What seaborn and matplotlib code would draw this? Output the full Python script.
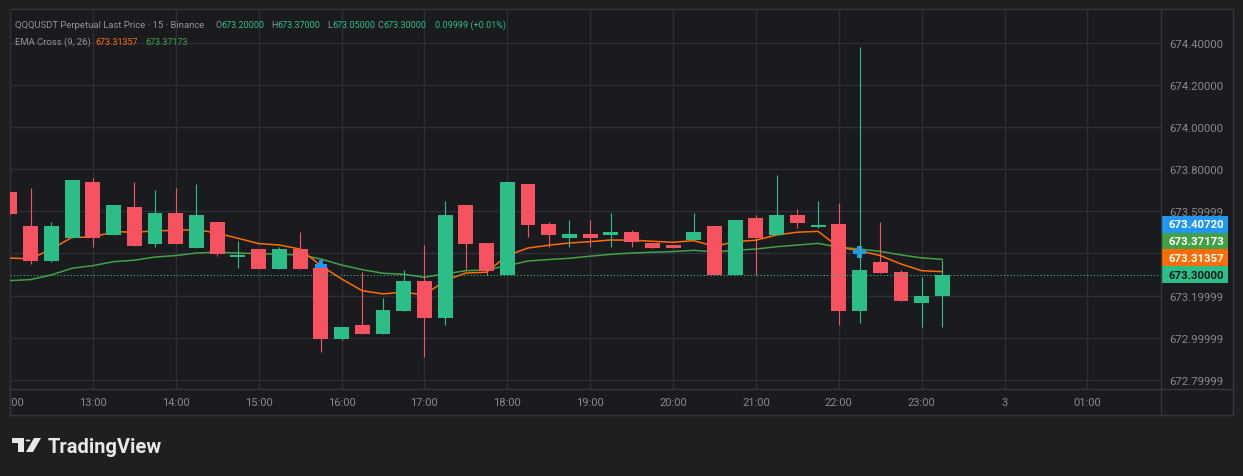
import numpy as np
import pandas as pd
import seaborn as sns
import matplotlib.pyplot as plt
from matplotlib.patches import Rectangle, Circle, Polygon
from matplotlib.lines import Line2D

# 15 minute candles, index 0 = 12:00
opens = [673.692, 673.531, 673.364, 673.474, 673.740, 673.488, 673.621, 673.445, 673.592, 673.426,
         673.550, 673.385, 673.421, 673.326, 673.421, 673.331, 672.994, 673.060, 673.018, 673.127,
         673.269, 673.094, 673.630, 673.450, 673.298, 673.730, 673.540, 673.474, 673.493, 673.488,
         673.502, 673.450, 673.440, 673.464, 673.531, 673.298, 673.569, 673.488, 673.583, 673.528,
         673.540, 673.127, 673.360, 673.312, 673.165, 673.200]
highs = [673.692, 673.711, 673.550, 673.749, 673.759, 673.630, 673.740, 673.702, 673.711, 673.730,
         673.550, 673.459, 673.421, 673.431, 673.502, 673.335, 673.051, 673.314, 673.189, 673.322,
         673.440, 673.649, 673.630, 673.450, 673.740, 673.730, 673.550, 673.559, 673.559, 673.592,
         673.512, 673.450, 673.440, 673.592, 673.531, 673.559, 673.583, 673.773, 673.611, 673.649,
         673.640, 674.381, 673.550, 673.322, 673.288, 673.370]
lows = [673.589, 673.350, 673.360, 673.474, 673.431, 673.488, 673.436, 673.431, 673.445, 673.426,
        673.388, 673.331, 673.326, 673.326, 673.326, 672.933, 672.990, 673.018, 673.018, 673.127,
        672.910, 673.062, 673.322, 673.298, 673.298, 673.478, 673.431, 673.431, 673.431, 673.431,
        673.431, 673.426, 673.426, 673.464, 673.298, 673.298, 673.298, 673.488, 673.521, 673.521,
        673.060, 673.070, 673.307, 673.174, 673.051, 673.050]
closes = [673.589, 673.364, 673.531, 673.749, 673.474, 673.630, 673.436, 673.592, 673.445, 673.583,
          673.398, 673.388, 673.326, 673.421, 673.326, 672.994, 673.051, 673.018, 673.132, 673.269,
          673.094, 673.583, 673.445, 673.317, 673.740, 673.535, 673.488, 673.493, 673.474, 673.502,
          673.455, 673.426, 673.426, 673.502, 673.298, 673.559, 673.474, 673.583, 673.545, 673.530,
          673.127, 673.322, 673.307, 673.174, 673.198, 673.300]

ema9 = [673.378, 673.375, 673.421, 673.477, 673.477, 673.504, 673.501, 673.507, 673.510, 673.513,
        673.497, 673.472, 673.447, 673.440, 673.421, 673.342, 673.279, 673.223, 673.208, 673.216,
        673.203, 673.271, 673.307, 673.311, 673.390, 673.426, 673.439, 673.450, 673.456, 673.464,
        673.463, 673.458, 673.453, 673.461, 673.434, 673.456, 673.463, 673.488, 673.501, 673.505,
        673.430, 673.413, 673.390, 673.350, 673.318, 673.31357]
ema26 = [673.271, 673.276, 673.298, 673.330, 673.342, 673.361, 673.368, 673.383, 673.390, 673.402,
         673.406, 673.402, 673.399, 673.396, 673.393, 673.374, 673.345, 673.323, 673.306, 673.301,
         673.287, 673.303, 673.318, 673.322, 673.342, 673.364, 673.371, 673.377, 673.387, 673.396,
         673.402, 673.406, 673.409, 673.415, 673.407, 673.415, 673.421, 673.432, 673.440, 673.448,
         673.430, 673.421, 673.410, 673.393, 673.379, 673.37173]

cross_idx = [15, 41]
cross_val = [673.338, 673.40720]

hour_labels = ["12:00", "13:00", "14:00", "15:00", "16:00", "17:00", "18:00",
               "19:00", "20:00", "21:00", "22:00", "23:00", "3", "01:00"]
price_ticks = [674.4, 674.2, 674.0, 673.8, 673.6, 673.4, 673.2, 673.0, 672.8]
# the 673.40000 label sits under the price badges, so it is not shown
price_labels = ["674.40000", "674.20000", "674.00000", "673.80000", "673.59999",
                "", "673.19999", "672.99999", "672.79999"]

symbol = "QQQUSDT Perpetual Last Price \u00b7 15 \u00b7 Binance"
change_txt = "0.09999 (+0.01%)"

OUTER = "#1f1f1f"
PANEL = "#1a1b1f"
GRID = "#2c2f38"
BORDER = "#35373e"
AXTXT = "#868993"
HDR = "#8f929b"
UP = "#2dbd86"
DOWN = "#f7525f"
EMA9_C = "#ff6d00"
EMA26_C = "#43a047"
BLUE = "#2196f3"

W, H = 1243, 477


def fx(px):
    return px / W


def fy(py):
    return 1 - py / H


sns.set_style("dark", rc={"axes.facecolor": PANEL, "figure.facecolor": OUTER,
                          "grid.color": GRID, "axes.edgecolor": BORDER})
plt.rcParams['font.family'] = ['Roboto', 'DejaVu Sans']

df = pd.DataFrame({"i": np.arange(len(opens)), "open": opens, "high": highs,
                   "low": lows, "close": closes, "ema9": ema9, "ema26": ema26})

fig = plt.figure(figsize=(W / 100, H / 100), dpi=100, facecolor=OUTER)
fig.add_artist(Rectangle((fx(10), fy(416)), fx(1233) - fx(10), fy(10) - fy(416),
                         transform=fig.transFigure, facecolor=PANEL, edgecolor=BORDER,
                         lw=1, zorder=-5))

ax = fig.add_axes([fx(10), fy(390), fx(1161) - fx(10), fy(10) - fy(390)])
ax.set_facecolor("none")
for s in ax.spines.values():
    s.set_visible(False)

xlim = (0.21, 55.55)
ylim = (672.756, 674.5615)
ax.set_xlim(*xlim)
ax.set_ylim(*ylim)

hour_pos = [4 * k for k in range(len(hour_labels))]
ax.set_xticks(hour_pos)
ax.tick_params(axis="x", length=0, labelbottom=False)
ax.yaxis.tick_right()
ax.set_yticks(price_ticks, labels=price_labels)
ax.tick_params(axis="y", length=0, pad=5.8, labelsize=8.2, labelcolor=AXTXT)
ax.grid(True, color=GRID, lw=1)
ax.set_axisbelow(True)

# EMA lines (behind candles)
sns.lineplot(data=df, x="i", y="ema26", ax=ax, color=EMA26_C, lw=1.1, zorder=2)
sns.lineplot(data=df, x="i", y="ema9", ax=ax, color=EMA9_C, lw=1.1, zorder=2)
ax.set_xlabel("")
ax.set_ylabel("")

# cross markers
sns.scatterplot(x=cross_idx, y=cross_val, ax=ax, marker="P", s=80, color=BLUE,
                edgecolor="none", zorder=2.5)

# candles
o = df["open"].values
c = df["close"].values
up = c >= o
colors = np.where(up, UP, DOWN)
min_h = 0.008
body_h = np.maximum(np.abs(c - o), min_h)
body_lo = np.where(np.abs(c - o) < min_h, (o + c) / 2 - min_h / 2, np.minimum(o, c))
ax.vlines(df["i"], df["low"], df["high"], colors=colors, lw=0.8, zorder=3)
ax.bar(df["i"], body_h, bottom=body_lo, width=0.72, color=colors, lw=0, zorder=4)

# last price line
ax.axhline(closes[-1], color=UP, lw=0.8, ls=(0, (1, 2)), zorder=5)

# time axis strip
ax_time = fig.add_axes([fx(10), fy(416), fx(1161) - fx(10), fy(390) - fy(416)], sharex=ax)
ax_time.set_facecolor("none")
ax_time.axis("off")
for pos, lab in zip(hour_pos, hour_labels):
    ax_time.text(pos, 0.5, lab, transform=ax_time.get_xaxis_transform(), ha="center",
                 va="center", fontsize=8, color=AXTXT, clip_on=True)

# price scale badges
ax_price = fig.add_axes([fx(1161), fy(390), fx(1233) - fx(1161), fy(10) - fy(390)])
ax_price.set_facecolor("none")
ax_price.axis("off")
ax_price.set_xlim(0, 1)
ax_price.set_ylim(*ylim)
bh = 0.0793
badges = [(closes[-1], UP, "#131722"), (ema9[-1], EMA9_C, "white"),
          (ema26[-1], EMA26_C, "white"), (cross_val[-1], BLUE, "white")]
for k, (val, fc, tc) in enumerate(badges):
    yc = closes[-1] + k * bh
    ax_price.add_patch(Rectangle((0.014, yc - bh / 2), 0.916, bh, facecolor=fc, lw=0))
    ax_price.text(0.11, yc, f"{val:.5f}", ha="left", va="center", fontsize=8.2,
                  fontweight="bold", color=tc)

# separators
fig.add_artist(Line2D([fx(1161), fx(1161)], [fy(10), fy(416)], color=BORDER, lw=1))
fig.add_artist(Line2D([fx(10), fx(1233)], [fy(390), fy(390)], color=BORDER, lw=1))

# legend header
hs = 6.5
fig.text(fx(15), fy(28.3), symbol, fontsize=6.8, color=HDR, va="baseline")
ohlc = [("O", opens[-1], 215, 221.3), ("H", highs[-1], 271.7, 277.3),
        ("L", lows[-1], 327.7, 332), ("C", closes[-1], 377.7, 383.3)]
for key, val, kx, vx in ohlc:
    fig.text(fx(kx), fy(28.3), key, fontsize=hs, color=HDR, va="baseline")
    fig.text(fx(vx), fy(28.3), f"{val:.5f}", fontsize=hs, color=UP, va="baseline")
fig.text(fx(435), fy(28.3), change_txt, fontsize=hs, color=UP, va="baseline")
fig.text(fx(15), fy(45), "EMA Cross (9, 26)", fontsize=6.8, color=HDR, va="baseline")
fig.text(fx(95.7), fy(45), f"{ema9[-1]:.5f}", fontsize=hs, color=EMA9_C, va="baseline")
fig.text(fx(145.7), fy(45), f"{ema26[-1]:.5f}", fontsize=hs, color=EMA26_C, va="baseline")

# TradingView logo
LOGO = "#e8e8e8"
fig.add_artist(Rectangle((fx(12), fy(444)), fx(24) - fx(12), fy(439) - fy(444),
                         transform=fig.transFigure, facecolor=LOGO, lw=0))
fig.add_artist(Rectangle((fx(18), fy(453)), fx(24) - fx(18), fy(439) - fy(453),
                         transform=fig.transFigure, facecolor=LOGO, lw=0))
fig.add_artist(Circle((fx(28), fy(441.5)), fx(2.4), transform=fig.transFigure,
                      facecolor=LOGO, lw=0))
fig.add_artist(Polygon([(fx(34), fy(439)), (fx(41), fy(439)), (fx(33), fy(453)), (fx(26), fy(453))],
                       closed=True, transform=fig.transFigure, facecolor=LOGO, lw=0))
fig.text(fx(48), fy(453), "TradingView", fontsize=14.5, fontweight="bold", color=LOGO,
         va="baseline")

fig.savefig("out.png", dpi=100, facecolor=OUTER)
